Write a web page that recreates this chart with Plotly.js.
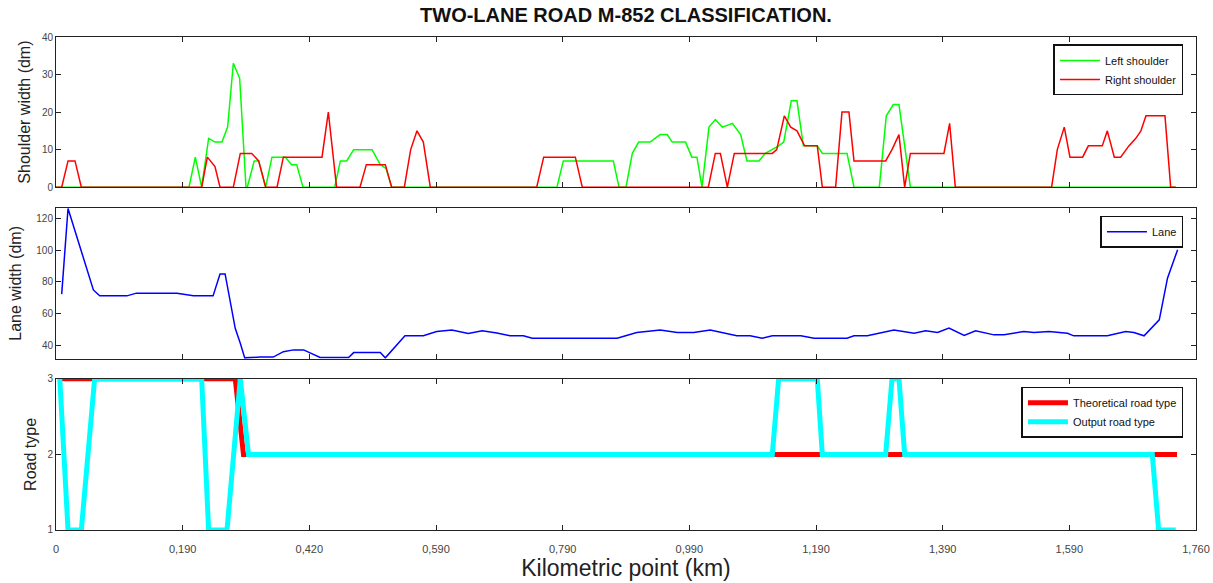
<!DOCTYPE html>
<html>
<head>
<meta charset="utf-8">
<script src="https://cdn.plot.ly/plotly-3.0.1.min.js"></script>
<style>html,body{margin:0;padding:0;background:#fff;}#chart{width:1213px;height:583px;}</style>
</head>
<body>
<div id="chart"></div>
<script>
// Positions along the road (axis units; ticks every 200 units, labelled as in the original)
const xTickVals = [0, 200, 400, 600, 800, 1000, 1200, 1400, 1600, 1800];
const xTickText = ["0", "0,190", "0,420", "0,590", "0,790", "0,990", "1,190", "1,390", "1,590", "1,760"];

// Left shoulder width (dm)
const leftX = [0, 210, 220, 230, 241, 251, 262, 271, 280, 290, 300, 302, 313, 320, 331, 341, 362, 372, 380, 390, 440, 449, 459, 470, 499, 512, 521, 530, 791, 801, 880, 889, 900, 910, 920, 938, 954, 965, 973, 994, 1004, 1012, 1020, 1031, 1041, 1052, 1068, 1081, 1091, 1110, 1120, 1141, 1149, 1161, 1170, 1180, 1202, 1210, 1249, 1260, 1300, 1311, 1322, 1331, 1349, 1768];
const leftY = [0, 0, 8, 0, 13, 12, 12, 16, 33, 29, 0, 0, 7, 7, 0, 8, 8, 6, 6, 0, 0, 7, 7, 10, 10, 6, 5, 0, 0, 7, 7, 0, 0, 9, 12, 12, 14, 14, 12, 12, 8, 8, 0, 16, 18, 16, 17, 14, 7, 7, 9, 11, 12, 23, 23, 11, 11, 9, 9, 0, 0, 19, 22, 22, 0, 0];

// Right shoulder width (dm)
const rightX = [0, 9, 19, 30, 40, 230, 239, 251, 259, 280, 291, 309, 320, 331, 349, 359, 420, 430, 443, 480, 490, 520, 530, 550, 560, 570, 580, 591, 759, 770, 820, 831, 1030, 1041, 1049, 1060, 1071, 1131, 1138, 1150, 1160, 1170, 1182, 1202, 1210, 1231, 1241, 1252, 1260, 1310, 1320, 1331, 1340, 1349, 1402, 1411, 1420, 1572, 1581, 1592, 1601, 1621, 1630, 1652, 1660, 1671, 1681, 1694, 1705, 1713, 1721, 1751, 1760, 1768];
const rightY = [0, 0, 7, 7, 0, 0, 8, 5.5, 0, 0, 9, 9, 7, 0, 0, 8, 8, 20, 0, 0, 6, 6, 0, 0, 10, 15, 12, 0, 0, 8, 8, 0, 0, 9, 9, 0, 9, 9, 10, 19, 16, 15, 11, 11, 0, 0, 20, 20, 7, 7, 10, 14, 0, 9, 9, 17, 0, 0, 10, 16, 8, 8, 11, 11, 15, 8, 8, 11, 13, 15, 19, 19, 0, 0];

// Lane width (dm)
const laneX = [9, 19, 59, 69, 112, 127, 191, 217, 248, 259, 267, 275, 283, 291, 298, 322, 343, 359, 375, 391, 417, 462, 470, 512, 520, 551, 580, 601, 625, 651, 673, 696, 717, 738, 752, 886, 917, 954, 981, 1007, 1033, 1075, 1096, 1115, 1131, 1176, 1197, 1249, 1260, 1281, 1323, 1355, 1373, 1392, 1410, 1434, 1452, 1481, 1497, 1528, 1544, 1568, 1597, 1607, 1660, 1689, 1702, 1718, 1742, 1755, 1771];
const laneY = [72.4, 126, 75, 71.3, 71.3, 73, 73, 71.3, 71.3, 85, 85, 67.8, 51, 41.7, 32.5, 33, 33, 36.4, 37.5, 37.5, 32.7, 32.7, 35.8, 35.8, 32.5, 46.3, 46.3, 49, 50, 47.7, 49.4, 48.1, 46.3, 46.3, 44.8, 44.8, 48.4, 50, 48.4, 48.4, 50, 46.3, 46.3, 44.8, 46.3, 46.3, 44.8, 44.8, 46.3, 46.3, 50, 47.9, 49.4, 48.4, 51.1, 46.5, 49.4, 46.9, 46.9, 49, 48.4, 49, 47.9, 46.3, 46.3, 49, 48.4, 46.3, 56.3, 82.4, 100.2];

// Road type
const theoX = [6, 283, 296, 1770];
const theoY = [3, 3, 2, 2];
const outX = [6, 19, 40, 61, 230, 241, 270, 291, 304, 1131, 1141, 1202, 1210, 1310, 1320, 1331, 1340, 1731, 1741, 1768];
const outY = [3, 1, 1, 3, 3, 1, 1, 3, 2, 2, 3, 3, 2, 2, 3, 3, 2, 2, 1, 1];

const FONT = "Liberation Sans, Arial, sans-serif";

const traces = [
  {x: leftX, y: leftY, type: 'scatter', mode: 'lines', name: 'Left shoulder', line: {color: '#00ff00', width: 1.5}, xaxis: 'x', yaxis: 'y', legend: 'legend'},
  {x: rightX, y: rightY, type: 'scatter', mode: 'lines', name: 'Right shoulder', line: {color: '#ff0000', width: 1.5}, xaxis: 'x', yaxis: 'y', legend: 'legend'},
  {x: laneX, y: laneY, type: 'scatter', mode: 'lines', name: 'Lane', line: {color: '#0000ff', width: 1.5}, xaxis: 'x2', yaxis: 'y2', legend: 'legend2'},
  {x: theoX, y: theoY, type: 'scatter', mode: 'lines', name: 'Theoretical road type', line: {color: '#ff0000', width: 5}, xaxis: 'x3', yaxis: 'y3', legend: 'legend3'},
  {x: outX, y: outY, type: 'scatter', mode: 'lines', name: 'Output road type', line: {color: '#00ffff', width: 5}, xaxis: 'x3', yaxis: 'y3', legend: 'legend3'}
];

const xBase = {
  range: [0, 1800], tickvals: xTickVals, ticktext: xTickText,
  ticks: 'inside', ticklen: 5, tickcolor: '#222', showline: true, linecolor: '#222', linewidth: 1,
  mirror: 'ticks', showgrid: false, zeroline: false,
  tickfont: {family: FONT, size: 11, color: '#444'}
};
function yBase(extra) {
  return Object.assign({
    ticks: 'inside', ticklen: 5, tickcolor: '#222', showline: true, linecolor: '#222', linewidth: 1,
    mirror: 'ticks', showgrid: false, zeroline: false,
    tickfont: {family: FONT, size: 10, color: '#444'}
  }, extra);
}
const legendBase = {
  xanchor: 'right', yanchor: 'top', x: 0.989,
  bgcolor: '#ffffff', bordercolor: '#111', borderwidth: 1.5,
  font: {family: FONT, size: 11, color: '#111'}, itemwidth: 40, tracegroupgap: 0
};

const layout = {
  width: 1213, height: 583,
  margin: {l: 56, r: 17, t: 37, b: 53},
  paper_bgcolor: '#fff', plot_bgcolor: '#fff',
  showlegend: true,
  title: {text: '<b>TWO-LANE ROAD M-852 CLASSIFICATION.</b>', x: 0.5, xref: 'paper', y: 0.986, yref: 'container', yanchor: 'top',
          font: {family: FONT, size: 20, color: '#111'}},
  xaxis: Object.assign({}, xBase, {anchor: 'y', showticklabels: false}),
  xaxis2: Object.assign({}, xBase, {anchor: 'y2', matches: 'x', showticklabels: false}),
  xaxis3: Object.assign({}, xBase, {anchor: 'y3', matches: 'x', ticklabelstandoff: 9,
          title: {text: 'Kilometric point (km)', font: {family: FONT, size: 23, color: '#222'}, standoff: 2}}),
  yaxis: yBase({domain: [0.6954, 1], range: [0, 40], tickvals: [0, 10, 20, 30, 40],
          title: {text: 'Shoulder width (dm)', font: {family: FONT, size: 16, color: '#222'}, standoff: 7}}),
  yaxis2: yBase({domain: [0.3472, 0.6532], range: [31.9, 126.3], tickvals: [40, 60, 80, 100, 120],
          title: {text: 'Lane width (dm)', font: {family: FONT, size: 16, color: '#222'}, standoff: 10}}),
  yaxis3: yBase({domain: [0, 0.3066], range: [1, 3], tickvals: [1, 2, 3],
          title: {text: 'Road type', font: {family: FONT, size: 16, color: '#222'}, standoff: 6}}),
  legend: Object.assign({}, legendBase, {y: 0.985}),
  legend2: Object.assign({}, legendBase, {y: 0.6376}),
  legend3: Object.assign({}, legendBase, {y: 0.2904})
};

Plotly.newPlot('chart', traces, layout, {displayModeBar: false, staticPlot: true});
</script>
</body>
</html>
